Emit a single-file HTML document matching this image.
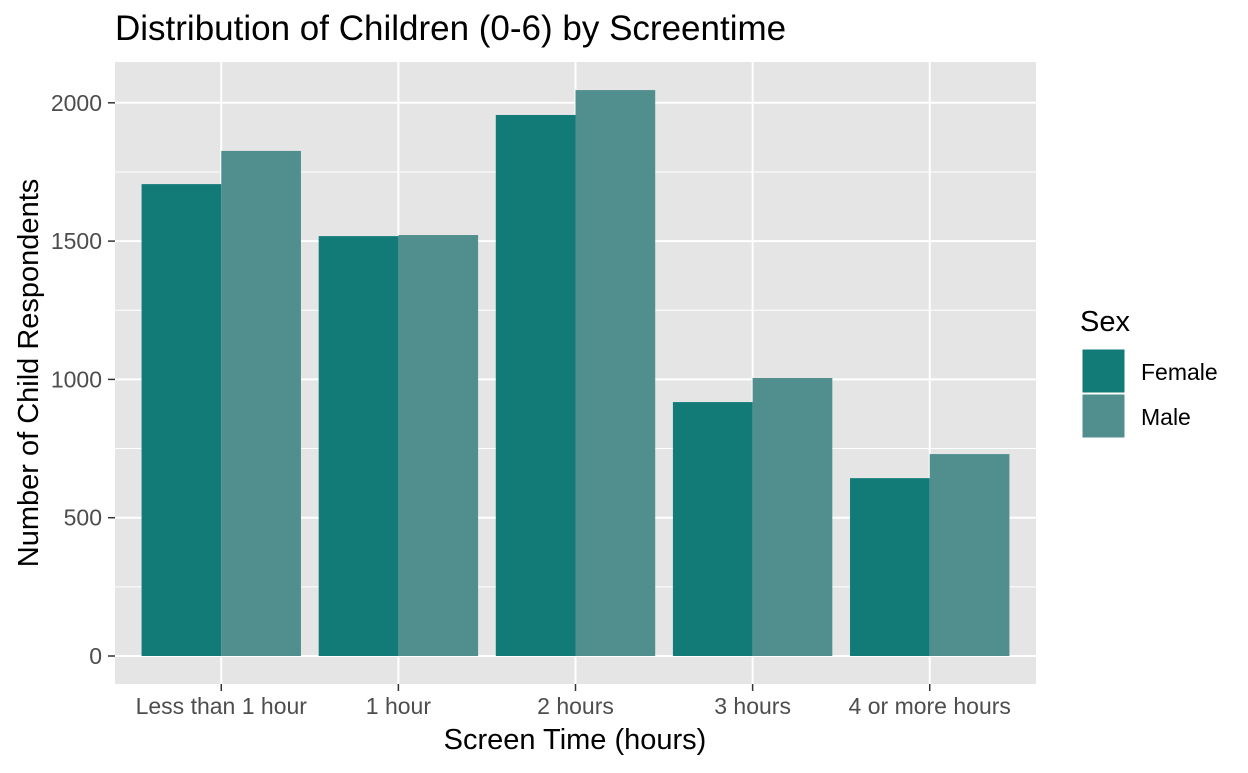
<!DOCTYPE html>
<html><head><meta charset="utf-8"><style>
body{margin:0;background:#fff;font-family:"Liberation Sans",Arial,sans-serif}
</style></head><body>
<svg id="chart" width="1248" height="768" xmlns="http://www.w3.org/2000/svg">
<text x="115" y="40" font-size="35" fill="#000">Distribution of Children (0-6) by Screentime</text>
<rect x="115" y="62" width="921" height="622" fill="#e5e5e5"/>
<g id="grid"></g><g id="bars"></g><g id="axes"></g>
<text x="575" y="749" font-size="29" text-anchor="middle">Screen Time (hours)</text>
<text transform="translate(38,373) rotate(-90)" font-size="29" text-anchor="middle">Number of Child Respondents</text>
<g>
<text x="1080" y="331" font-size="29">Sex</text>
<rect x="1082" y="349" width="43" height="44" fill="#127b78" stroke="#fff"/>
<rect x="1082" y="394" width="43" height="44" fill="#518f8f" stroke="#fff"/>
<text x="1141" y="380" font-size="23">Female</text>
<text x="1141" y="425" font-size="23">Male</text>
</g>
</svg>
<script>
const categories=["Less than 1 hour","1 hour","2 hours","3 hours","4 or more hours"];
const femaleValues=[1706,1518,1956,918,643];
const maleValues=[1826,1522,2046,1005,730];
const yTicks=[0,500,1000,1500,2000];
const NS="http://www.w3.org/2000/svg";
const x0=115,x1=1036,y0=62,y1=684;
const step=(x1-x0)/(categories.length+0.2);
const xc=i=>x0+step*(0.6+i);
const y=v=>656-v*0.2766;
function mk(t,a,p){const e=document.createElementNS(NS,t);for(const k in a)e.setAttribute(k,a[k]);p.appendChild(e);return e;}
const grid=document.getElementById('grid'),bars=document.getElementById('bars'),axes=document.getElementById('axes');
for(let i=0;i<yTicks.length;i++){
  const v=yTicks[i];
  const g=mk('line',{x1:x0,x2:x1,y1:y(v),y2:y(v),stroke:'#fff','stroke-width':2},grid);
  
  
  if(i<yTicks.length-1){const m=(v+yTicks[i+1])/2;
    const gm=mk('line',{x1:x0,x2:x1,y1:y(m),y2:y(m),stroke:'#fff','stroke-width':1},grid);
    
    }
  const tk=mk('line',{x1:108,x2:115,y1:y(v),y2:y(v),stroke:'#333','stroke-width':1.5},axes);
  
  
  const t=mk('text',{x:102,y:y(v)+8,'font-size':23,fill:'#4d4d4d','text-anchor':'end'},axes);
  t.textContent=v;
  
  
}
const bw=step*0.45;
categories.forEach((c,i)=>{
  const cx=xc(i);
  const g=mk('line',{x1:cx,x2:cx,y1:y0,y2:y1,stroke:'#fff','stroke-width':2},grid);
  
  
  const f=mk('rect',{x:cx-bw,y:y(femaleValues[i]),width:bw,height:y(0)-y(femaleValues[i]),fill:'#127b78'},bars);
  
  
  const m=mk('rect',{x:cx,y:y(maleValues[i]),width:bw,height:y(0)-y(maleValues[i]),fill:'#518f8f'},bars);
  
  
  const tk=mk('line',{x1:cx,x2:cx,y1:y1,y2:y1+7,stroke:'#333','stroke-width':1.5},axes);
  
  
  const t=mk('text',{x:cx,y:714,'font-size':23,fill:'#4d4d4d','text-anchor':'middle'},axes);
  t.textContent=c;
  
  
});
</script>
</body></html>
